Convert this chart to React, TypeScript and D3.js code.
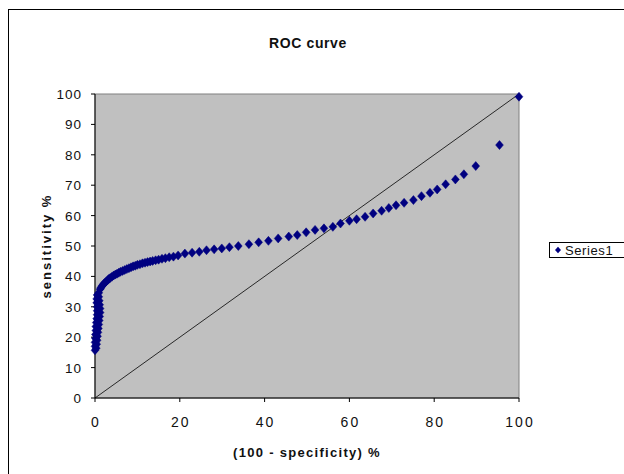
import React from "react";
import * as d3 from "d3";

// ROC curve points: false positive rate (100 - specificity) and sensitivity, in %
const fpr: number[] = [
  // steep start near zero
  0.0, 0.0, 0.0, 0.1, 0.1, 0.2, 0.2, 0.3, 0.4, 0.5, 0.5, 0.5, 0.4, 0.4, 0.5,
  0.3, 0.4, 0.5, 0.6, 0.7, 0.8, 0.9, 1.0, 1.1, 1.2, 1.2, 1.1, 1.0, 0.9, 0.9,
  // bend
  1.2, 1.4, 1.6, 1.9, 2.1, 2.4, 2.7, 3.0, 3.3, 3.6, 4.0, 4.4, 4.8, 5.2, 5.6,
  6.0, 6.5, 7.0, 7.5, 8.0, 8.5, 9.0, 9.5, 10.0, 10.6, 11.2, 11.8, 12.4, 13.0,
  13.6, 14.3, 15.0, 15.8, 16.6, 17.5, 18.5, 19.6,
  // gradual rise
  21.2, 22.9, 24.6, 26.3, 28.1, 29.9, 31.7, 33.8, 36.3, 38.6, 40.9, 43.2, 45.7,
  47.7, 49.8, 51.9, 54.0, 56.1, 57.9, 60.0, 61.7, 63.7, 65.6, 67.6, 69.3, 71.0,
  72.9, 75.1, 77.0, 79.0, 80.7, 82.7, 85.0, 87.0, 89.8, 95.4, 100.0,
];
const sensitivity: number[] = [
  15.7, 17.0, 18.3, 19.6, 20.9, 22.2, 23.5, 24.8, 26.1, 27.4, 28.7, 30.0, 31.3, 32.6, 33.9,
  16.4, 17.7, 19.0, 20.3, 21.6, 22.9, 24.2, 25.5, 26.8, 28.1, 29.4, 30.7, 32.0, 33.3, 34.6,
  35.8, 36.3, 36.8, 37.2, 37.6, 38.0, 38.4, 38.8, 39.2, 39.5, 39.9, 40.3, 40.6, 40.9, 41.2,
  41.5, 41.8, 42.1, 42.4, 42.7, 43.0, 43.3, 43.5, 43.8, 44.0, 44.3, 44.5, 44.7, 44.9,
  45.1, 45.3, 45.5, 45.8, 46.0, 46.3, 46.5, 46.9,
  47.5, 47.8, 48.1, 48.6, 48.9, 49.2, 49.6, 50.0, 50.6, 51.2, 51.7, 52.5, 53.1,
  53.6, 54.5, 55.3, 55.8, 56.3, 57.4, 58.3, 58.8, 59.6, 60.7, 61.6, 62.5, 63.4,
  64.2, 65.1, 66.4, 67.5, 68.6, 70.3, 71.9, 73.6, 76.3, 83.2, 99.1,
];
const xTicks: number[] = [0, 20, 40, 60, 80, 100];
const yTicks: number[] = [0, 10, 20, 30, 40, 50, 60, 70, 80, 90, 100];
const seriesName = "Series1";
const chartTitle = "ROC curve";
const xTitle = "(100 - specificity) %";
const yTitle = "sensitivity %";

const W = 624;
const H = 474;
const plot = { left: 95, right: 519, top: 94, bottom: 398 };
const FONT = "Arial, 'Liberation Sans', sans-serif";
const NAVY = "#000080";

// diamond marker, slightly taller than wide
const markerPath = (hw: number, hh: number) => `M0,${-hh}L${hw},0L0,${hh}L${-hw},0Z`;

export default function App() {
  const x = d3.scaleLinear().domain([0, 100]).range([plot.left, plot.right]);
  const y = d3.scaleLinear().domain([0, 100]).range([plot.bottom, plot.top]);
  const diag = d3.line<number>().x((d) => x(d)).y((d) => y(d))([0, 100]) || "";
  const pts = fpr.map((v, i) => [v, sensitivity[i]] as [number, number]);
  const marker = markerPath(3.9, 4.5);

  return (
    <svg
      width={W}
      height={H}
      style={{ position: "absolute", left: 0, top: 0, background: "#fff" }}
      fontFamily={FONT}
    >
      <rect x={8.5} y={9.5} width={700} height={600} fill="#fff" stroke="#000" strokeWidth={1} />
      <text x={308} y={48} textAnchor="middle" fontSize={14} fontWeight="bold" letterSpacing={0.6} fill="#111">
        {chartTitle}
      </text>

      <rect
        x={plot.left}
        y={plot.top}
        width={plot.right - plot.left}
        height={plot.bottom - plot.top}
        fill="#c0c0c0"
        stroke="#808080"
        strokeWidth={1}
      />

      {/* y axis */}
      <line x1={plot.left} x2={plot.left} y1={plot.top} y2={plot.bottom} stroke="#000" />
      {yTicks.map((t) => (
        <g key={"y" + t}>
          <line x1={plot.left - 4} x2={plot.left} y1={y(t)} y2={y(t)} stroke="#000" />
          <text x={82} y={y(t) + 5} textAnchor="end" fontSize={13.5} letterSpacing={1} fill="#111">
            {t}
          </text>
        </g>
      ))}

      {/* x axis */}
      <line x1={plot.left} x2={plot.right} y1={plot.bottom} y2={plot.bottom} stroke="#000" />
      {xTicks.map((t) => (
        <g key={"x" + t}>
          <line x1={x(t)} x2={x(t)} y1={plot.bottom} y2={plot.bottom + 4} stroke="#000" />
          <text x={x(t) + 1} y={427} textAnchor="middle" fontSize={14} letterSpacing={2} fill="#111">
            {t}
          </text>
        </g>
      ))}

      <text x={307} y={457} textAnchor="middle" fontSize={13} fontWeight="bold" letterSpacing={1.3} fill="#111">
        {xTitle}
      </text>
      <text
        transform={`translate(51,${(plot.top + plot.bottom) / 2}) rotate(-90)`}
        textAnchor="middle"
        fontSize={13}
        fontWeight="bold"
        letterSpacing={2}
        fill="#111"
      >
        {yTitle}
      </text>

      {/* reference diagonal */}
      <path d={diag} stroke="#000" strokeWidth={0.8} fill="none" />

      {/* ROC points */}
      {pts.map(([a, b], i) => (
        <path key={i} d={marker} transform={`translate(${x(a)},${y(b)})`} fill={NAVY} stroke={NAVY} strokeWidth={0.5} />
      ))}

      {/* legend */}
      <rect x={549.5} y={242.5} width={100} height={15} fill="#fff" stroke="#000" />
      <path d={markerPath(3, 3.2)} transform="translate(558,250)" fill={NAVY} />
      <text x={565} y={255} fontSize={13} letterSpacing={0.6} fill="#111">
        {seriesName}
      </text>
    </svg>
  );
}
